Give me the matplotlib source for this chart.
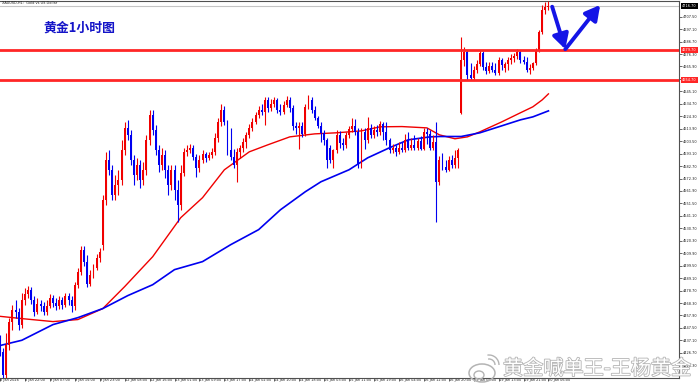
import matplotlib
matplotlib.use("Agg")
import matplotlib.pyplot as plt
import matplotlib.patheffects as pe
from matplotlib.patches import Ellipse, Arc
import numpy as np

# ---------------- data ----------------
opens = [4437.8, 4427.7, 4407.8, 4433.6, 4452.8, 4462.8, 4461.1, 4450.3, 4471.2, 4476.2,
         4479.5, 4471.2, 4461.1, 4467.9, 4466.2, 4461.1, 4466.2, 4472.8, 4468.7, 4466.2,
         4471.2, 4467.0, 4474.5, 4471.2, 4466.2, 4483.6, 4494.5, 4512.9, 4502.9, 4484.5,
         4492.0, 4497.9, 4506.2, 4517.0, 4554.6, 4587.9, 4579.6, 4558.7, 4567.1, 4571.3,
         4596.3, 4614.6, 4608.8, 4587.9, 4575.4, 4583.8, 4571.3, 4579.6, 4604.6, 4625.5,
         4613.0, 4596.3, 4583.8, 4592.1, 4579.6, 4567.1, 4579.6, 4562.9, 4550.4, 4577.1,
         4594.6, 4596.3, 4598.0, 4590.5, 4581.3, 4587.9, 4592.9, 4589.6, 4592.1, 4594.6,
         4606.3, 4619.6, 4629.7, 4619.6, 4596.3, 4590.5, 4583.8, 4594.6, 4598.0, 4602.9,
         4608.8, 4614.6, 4619.6, 4625.5, 4629.7, 4628.0, 4638.0, 4631.3, 4634.7, 4638.0,
         4629.7, 4628.0, 4633.8, 4638.0, 4631.3, 4616.3, 4614.6, 4616.3, 4609.6, 4632.2,
         4638.0, 4629.7, 4623.0, 4616.3, 4610.5, 4604.6, 4598.0, 4587.9, 4596.3, 4608.8,
         4602.1, 4600.5, 4608.8, 4613.8, 4616.3, 4611.3, 4583.8, 4611.3, 4604.6, 4614.6,
         4608.8, 4613.0, 4611.3, 4618.0, 4611.3, 4604.6, 4596.3, 4598.0, 4594.6, 4597.9,
         4596.3, 4604.6, 4598.0, 4600.5, 4597.9, 4603.8, 4597.1, 4611.3, 4609.6, 4597.9,
         4602.9, 4569.6, 4587.9, 4582.1, 4579.6, 4587.9, 4583.8, 4589.6, 4627.2, 4671.4,
         4678.1, 4658.9, 4656.4, 4663.0, 4668.0, 4677.2, 4665.5, 4662.2, 4666.4, 4663.0,
         4660.5, 4671.4, 4664.7, 4668.0, 4671.4, 4673.0, 4674.7, 4678.1, 4671.4, 4669.7,
         4663.0, 4664.7, 4668.9, 4679.7, 4694.7, 4713.1, 4715.6]
closes = [4427.7, 4407.8, 4433.6, 4452.8, 4462.8, 4461.1, 4450.3, 4471.2, 4476.2, 4479.5,
          4471.2, 4461.1, 4467.9, 4466.2, 4461.1, 4466.2, 4472.8, 4468.7, 4466.2, 4471.2,
          4467.0, 4474.5, 4471.2, 4466.2, 4483.6, 4494.5, 4512.9, 4502.9, 4484.5, 4492.0,
          4497.9, 4506.2, 4511.2, 4554.6, 4587.9, 4579.6, 4558.7, 4567.1, 4571.3, 4596.3,
          4614.6, 4608.8, 4587.9, 4575.4, 4583.8, 4571.3, 4579.6, 4604.6, 4625.5, 4613.0,
          4596.3, 4583.8, 4592.1, 4579.6, 4567.1, 4579.6, 4562.9, 4550.4, 4577.1, 4594.6,
          4596.3, 4598.0, 4590.5, 4581.3, 4587.9, 4592.9, 4589.6, 4592.1, 4594.6, 4606.3,
          4619.6, 4629.7, 4619.6, 4596.3, 4590.5, 4583.8, 4594.6, 4598.0, 4602.9, 4608.8,
          4614.6, 4619.6, 4625.5, 4629.7, 4628.0, 4638.0, 4631.3, 4634.7, 4638.0, 4629.7,
          4628.0, 4633.8, 4638.0, 4631.3, 4616.3, 4614.6, 4616.3, 4609.6, 4632.2, 4638.0,
          4629.7, 4623.0, 4616.3, 4610.5, 4604.6, 4587.9, 4587.9, 4596.3, 4608.8, 4602.1,
          4600.5, 4608.8, 4613.8, 4616.3, 4611.3, 4583.8, 4611.3, 4604.6, 4614.6, 4608.8,
          4613.0, 4611.3, 4618.0, 4611.3, 4604.6, 4596.3, 4598.0, 4594.6, 4597.9, 4596.3,
          4604.6, 4598.0, 4600.5, 4597.9, 4603.8, 4597.1, 4611.3, 4609.6, 4597.9, 4602.9,
          4569.6, 4587.9, 4582.1, 4579.6, 4587.9, 4583.8, 4589.6, 4596.3, 4671.4, 4678.1,
          4658.9, 4656.4, 4663.0, 4668.0, 4677.2, 4665.5, 4662.2, 4666.4, 4663.0, 4660.5,
          4671.4, 4667.2, 4668.0, 4671.4, 4673.0, 4674.7, 4678.1, 4671.4, 4669.7, 4663.0,
          4664.7, 4668.9, 4679.7, 4694.7, 4713.1, 4715.6, 4716.7]
highs = [4441.9, 4431.1, 4443.6, 4456.1, 4467.0, 4471.2, 4464.5, 4477.0, 4481.1, 4482.8,
         4482.0, 4474.5, 4472.8, 4471.2, 4469.5, 4471.2, 4476.2, 4475.4, 4472.8, 4474.5,
         4473.7, 4477.0, 4477.0, 4474.5, 4486.1, 4497.9, 4516.2, 4516.2, 4508.7, 4496.2,
         4501.2, 4509.6, 4514.5, 4558.7, 4594.6, 4596.3, 4583.8, 4575.4, 4579.6, 4604.6,
         4619.6, 4621.3, 4613.0, 4592.1, 4589.6, 4587.9, 4586.3, 4608.8, 4629.7, 4629.7,
         4617.1, 4600.5, 4598.0, 4596.3, 4583.8, 4583.8, 4583.8, 4571.3, 4583.8, 4598.0,
         4600.5, 4601.3, 4600.5, 4592.9, 4592.1, 4596.3, 4594.6, 4594.6, 4598.0, 4610.5,
         4623.0, 4634.7, 4633.0, 4621.3, 4614.6, 4597.1, 4598.0, 4600.5, 4606.3, 4611.3,
         4618.0, 4623.0, 4628.0, 4633.0, 4634.7, 4640.5, 4640.5, 4638.8, 4640.5, 4639.6,
         4634.7, 4637.2, 4641.3, 4640.5, 4633.8, 4619.6, 4619.6, 4619.6, 4634.7, 4642.2,
         4640.5, 4633.0, 4624.6, 4619.6, 4613.0, 4606.3, 4600.5, 4597.1, 4613.0, 4612.1,
         4606.3, 4611.3, 4616.3, 4623.0, 4622.2, 4614.6, 4614.6, 4614.6, 4623.8, 4618.0,
         4616.3, 4617.1, 4620.5, 4619.6, 4619.6, 4606.3, 4601.3, 4600.5, 4602.9, 4602.9,
         4609.6, 4611.3, 4606.3, 4608.8, 4606.3, 4607.9, 4614.6, 4614.6, 4613.0, 4608.8,
         4619.6, 4591.3, 4593.8, 4587.9, 4591.3, 4592.1, 4596.3, 4598.0, 4690.6, 4682.2,
         4679.7, 4668.9, 4666.4, 4671.4, 4679.7, 4678.9, 4669.7, 4669.7, 4669.7, 4668.9,
         4673.9, 4673.0, 4669.7, 4673.9, 4676.4, 4677.2, 4680.6, 4679.7, 4674.7, 4673.9,
         4668.0, 4669.7, 4681.4, 4696.4, 4717.3, 4719.8, 4720.6]
lows = [4424.4, 4400.2, 4404.4, 4429.4, 4446.1, 4456.1, 4446.1, 4447.8, 4467.0, 4472.8,
        4467.9, 4457.8, 4459.5, 4462.0, 4458.6, 4458.6, 4464.5, 4465.3, 4462.8, 4463.7,
        4463.7, 4465.3, 4467.0, 4461.1, 4462.8, 4481.1, 4492.0, 4499.5, 4482.0, 4482.8,
        4489.5, 4496.2, 4502.9, 4512.9, 4550.4, 4575.4, 4554.6, 4554.6, 4558.7, 4567.1,
        4592.1, 4604.6, 4583.8, 4567.1, 4571.3, 4564.6, 4567.1, 4575.4, 4600.5, 4608.8,
        4592.1, 4577.9, 4579.6, 4572.9, 4558.7, 4562.9, 4554.6, 4536.2, 4546.2, 4574.6,
        4591.3, 4593.8, 4587.9, 4573.8, 4577.9, 4585.4, 4586.3, 4587.9, 4589.6, 4592.1,
        4602.9, 4616.3, 4617.1, 4592.1, 4587.9, 4581.3, 4569.6, 4589.6, 4594.6, 4597.9,
        4606.3, 4612.1, 4618.0, 4623.0, 4625.5, 4617.1, 4628.0, 4628.8, 4632.2, 4627.2,
        4625.5, 4626.4, 4632.2, 4628.0, 4613.0, 4609.6, 4597.1, 4607.1, 4607.9, 4630.5,
        4627.2, 4621.3, 4614.6, 4602.9, 4600.5, 4581.3, 4585.4, 4581.3, 4593.8, 4597.9,
        4596.3, 4598.0, 4606.3, 4611.3, 4608.8, 4581.3, 4581.3, 4597.1, 4602.1, 4606.3,
        4606.3, 4607.9, 4608.8, 4604.6, 4600.5, 4593.8, 4593.8, 4591.3, 4592.9, 4594.6,
        4594.6, 4596.3, 4596.3, 4596.3, 4596.3, 4596.3, 4596.3, 4601.3, 4596.3, 4596.3,
        4536.2, 4567.1, 4579.6, 4577.9, 4578.8, 4581.3, 4581.3, 4581.3, 4626.5, 4666.4,
        4654.7, 4654.7, 4654.7, 4660.5, 4666.4, 4663.0, 4659.7, 4660.5, 4661.4, 4658.9,
        4658.9, 4663.0, 4661.4, 4663.0, 4668.0, 4669.7, 4672.2, 4668.9, 4668.0, 4661.4,
        4659.7, 4663.0, 4667.2, 4678.1, 4693.1, 4709.8, 4713.1]

# moving averages (bar index, value)
ma_fast_idx = [0, 7, 17, 25, 33, 40, 49, 58, 65, 72, 80, 86, 93, 101, 108, 116, 122, 129,
               137, 141, 146, 150, 154, 161, 167, 171, 174, 176]
ma_fast = [4457.2, 4455.3, 4452.8, 4454.5, 4463.7, 4482.0, 4507.0, 4539.6, 4556.3, 4579.6,
           4594.6, 4600.5, 4607.1, 4609.6, 4610.5, 4612.1, 4615.5, 4615.7, 4614.6, 4608.8,
           4605.5, 4607.1, 4611.3, 4619.6, 4627.2, 4632.2, 4638.0, 4643.0]
ma_slow_idx = [0, 7, 17, 25, 33, 41, 49, 56, 65, 74, 83, 90, 98, 103, 112, 118, 125, 131,
               138, 141, 148, 154, 161, 167, 171, 176]
ma_slow = [4432.8, 4437.2, 4450.3, 4456.1, 4463.7, 4474.5, 4483.6, 4496.2, 4502.9, 4517.0,
           4529.6, 4546.2, 4561.3, 4569.6, 4579.6, 4589.6, 4598.0, 4604.6, 4607.1, 4607.4,
           4607.4, 4610.5, 4616.3, 4621.3, 4623.8, 4628.8]

levels = [4679.7, 4654.7]
bid_price = 4716.7

arrow_x = [177.2, 181.4, 192.6]
arrow_y = [4715.8, 4680.3, 4717.3]

x_tick_labels = ["8 Jan 2026", "8 Jan 22:00", "9 Jan 07:00", "9 Jan 15:00", "9 Jan 23:00",
                 "12 Jan 08:00", "12 Jan 16:00", "13 Jan 01:00", "13 Jan 09:00",
                 "13 Jan 17:00", "14 Jan 02:00", "14 Jan 10:00", "14 Jan 18:00",
                 "15 Jan 03:00", "15 Jan 11:00", "15 Jan 19:00", "16 Jan 04:00",
                 "16 Jan 12:00", "16 Jan 20:00", "19 Jan 05:00", "19 Jan 13:00",
                 "19 Jan 21:00", "20 Jan 06:00"]
y_ticks = [4416.30, 4426.70, 4437.10, 4447.50, 4457.90, 4468.30, 4478.70, 4489.10,
           4499.50, 4509.90, 4520.30, 4530.70, 4541.10, 4551.50, 4561.90, 4572.30,
           4582.70, 4593.10, 4603.50, 4613.90, 4624.30, 4634.70, 4645.10, 4655.50,
           4665.90, 4676.30, 4686.70, 4697.10, 4707.50]

title_text = "黄金1小时图"
header_text = "XAUUSD,H1:  Gold vs US Dollar"
watermark_text = "黄金喊单王-王杨黄金"

# ---------------- styling ----------------
RED = "#f00000"
BLUE = "#0000f0"
LINE_RED = "#ff2626"
ARROW_BLUE = "#1414e6"
WM_GRAY = "#b4b4b4"
CJK = ["Noto Sans CJK SC", "DejaVu Sans"]
W, H = 700, 385
TICK_FS = 2.5

fig = plt.figure(figsize=(7, 3.85), dpi=100)
fig.patch.set_facecolor("white")
ax = fig.add_axes([0, 7.5 / H, 679 / W, 377.0 / H])

o = np.array(opens)
c = np.array(closes)
hi = np.array(highs)
lo = np.array(lows)
idx = np.arange(len(o))
up = c >= o
cols = np.where(up, RED, BLUE)

ax.vlines(idx, lo, hi, colors=cols, lw=0.8, zorder=3)
body = np.maximum(np.abs(c - o), 0.6)
ax.bar(idx, body, bottom=np.minimum(o, c), width=0.62, color=cols, lw=0, zorder=4)

ax.plot(ma_fast_idx, ma_fast, color=RED, lw=1.0, zorder=2)
ax.plot(ma_slow_idx, ma_slow, color=BLUE, lw=1.2, zorder=2)

for lv in levels:
    ax.axhline(lv, color=LINE_RED, lw=2.0, zorder=5)
ax.axhline(bid_price, color="#c4c4c4", lw=0.8, zorder=1)

arrow_props = dict(arrowstyle="-|>,head_length=0.55,head_width=0.3", color=ARROW_BLUE,
                   lw=2.8, mutation_scale=16, shrinkA=0, shrinkB=0)
ax.annotate("", xy=(arrow_x[1], arrow_y[1]), xytext=(arrow_x[0], arrow_y[0]),
            arrowprops=arrow_props, zorder=6)
ax.annotate("", xy=(arrow_x[2], arrow_y[2]), xytext=(arrow_x[1], arrow_y[1]),
            arrowprops=arrow_props, zorder=6)

ax.set_xlim(0.64, 217.9)
ax.set_ylim(4406.1, 4721.0)

for s in ["top", "right", "bottom"]:
    ax.spines[s].set_color("#505050")
    ax.spines[s].set_linewidth(0.8)
ax.spines["left"].set_visible(False)

ax.set_xticks(np.arange(len(x_tick_labels)) * 8)
ax.set_xticklabels(x_tick_labels, ha="left", fontsize=TICK_FS, color="#202020")
ax.tick_params(axis="x", length=2.0, width=0.6, pad=-1.6, color="#505050")

ax.yaxis.tick_right()
ax.set_yticks(y_ticks)
ylabels = [f"{v:.2f}" for v in y_ticks]
ylabels[y_ticks.index(4655.50)] = ""
ax.set_yticklabels(ylabels, fontsize=TICK_FS, color="#202020")
ax.tick_params(axis="y", length=2.0, width=0.6, pad=0.6, color="#505050")

ytr = ax.get_yaxis_transform()
for lv in levels:
    ax.text(1.0045, lv, f"{lv:.2f}", transform=ytr, ha="left", va="center", fontsize=TICK_FS,
            color="white", zorder=10, clip_on=False,
            bbox=dict(facecolor=LINE_RED, edgecolor="none", pad=0.7))
ax.text(1.0045, bid_price, f"{bid_price:.2f}", transform=ytr, ha="left", va="center",
        fontsize=TICK_FS, color="white", zorder=10, clip_on=False,
        bbox=dict(facecolor="black", edgecolor="none", pad=0.7))

fig.text(2 / W, 1 - 3.5 / H, header_text, fontsize=TICK_FS, color="#202020", va="center")
fig.text(43 / W, 1 - 27.5 / H, title_text, fontsize=9.3, fontweight="bold",
         color="#1414c8", va="center", ha="left", family=CJK)

# watermark (weibo-style logo outline + text)
ftr = fig.transFigure
def fx(px):
    return px / W
def fy(py):
    return 1 - py / H
fig.patches.append(Ellipse((fx(482), fy(373)), 26 / W, 18 / H, transform=ftr,
                           fill=False, edgecolor=WM_GRAY, lw=1.1, zorder=19))
fig.patches.append(Ellipse((fx(479), fy(375)), 10 / W, 8 / H, transform=ftr,
                           fill=False, edgecolor=WM_GRAY, lw=1.0, zorder=19))
fig.patches.append(Arc((fx(489), fy(365)), 12 / W, 12 / H, theta1=0, theta2=95,
                       transform=ftr, edgecolor=WM_GRAY, lw=1.0, zorder=19))
fig.patches.append(Arc((fx(489), fy(365)), 20 / W, 20 / H, theta1=0, theta2=95,
                       transform=ftr, edgecolor=WM_GRAY, lw=1.0, zorder=19))
fig.text(503 / W, 1 - 369 / H, watermark_text, fontsize=14.5, color="white", va="center",
         ha="left", family=CJK, zorder=20,
         path_effects=[pe.withStroke(linewidth=1.2, foreground=WM_GRAY)])

fig.savefig("out.png", dpi=100, facecolor="white")
